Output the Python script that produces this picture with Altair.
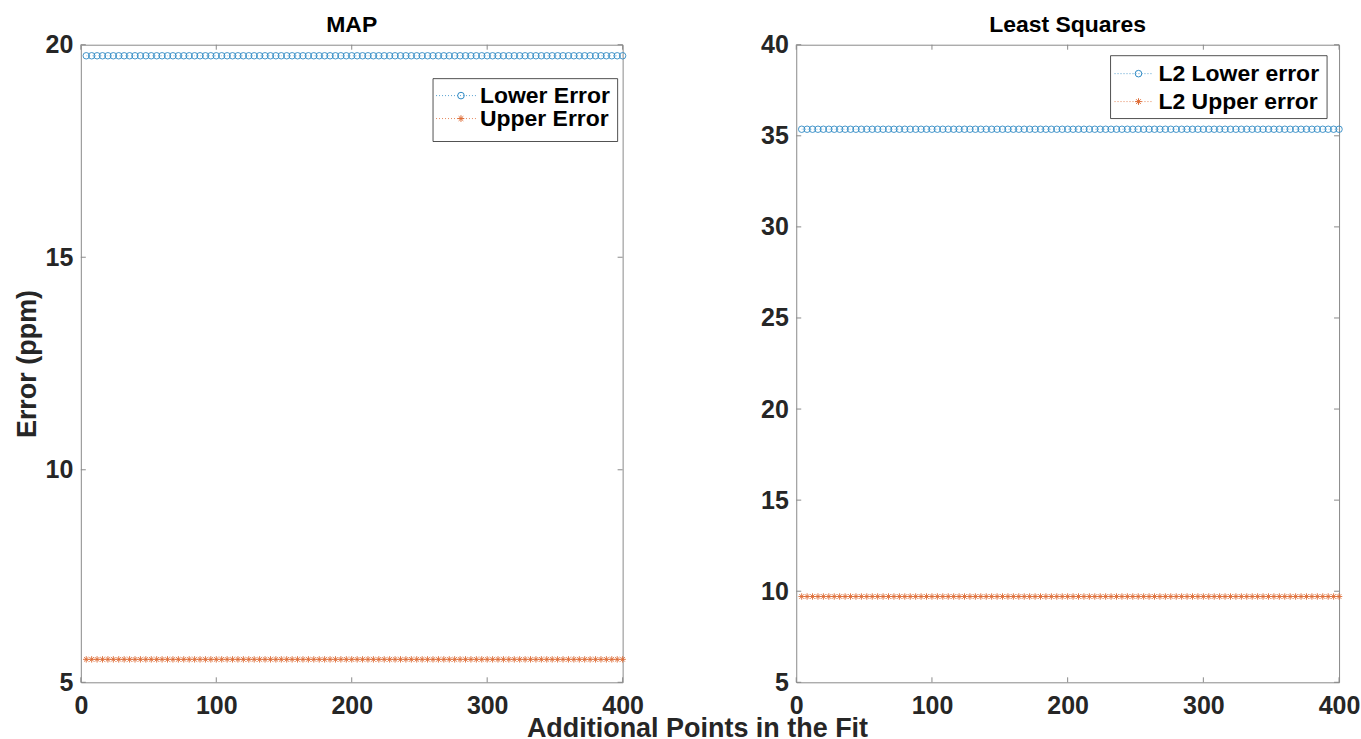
import altair as alt
import pandas as pd

# ---------------- data ----------------
X_POINTS = list(range(4, 401, 4))          # additional points in the fit
MAP_LOWER = 19.74                           # MAP lower error (ppm), flat
MAP_UPPER = 5.54                            # MAP upper error (ppm), flat
LS_LOWER = 35.36                            # least-squares lower error (ppm), flat
LS_UPPER = 9.71                             # least-squares upper error (ppm), flat

X_TICKS = [0, 100, 200, 300, 400]
MAP_Y_TICKS = [5, 10, 15, 20]
LS_Y_TICKS = [5, 10, 15, 20, 25, 30, 35, 40]

MAP_SERIES = ["Lower Error", "Upper Error"]
LS_SERIES = ["L2 Lower error", "L2 Upper error"]

# ---------------- styles ----------------
FONT = "Liberation Sans"
BLUE = "#2f8ac4"
ORANGE = "#de6a34"
FRAME = "#8a8a8a"
TXT = "#262626"
ASTERISK = "M-1,0L1,0M0,-1L0,1M-0.7,-0.7L0.7,0.7M-0.7,0.7L0.7,-0.7"
H = 639
TICK = 5


def legend_layers(names, box, rows, line_x, mark_x, text_x):
    x0, x1, y0, y1 = box
    layers = [
        alt.Chart(pd.DataFrame({"k": [0]})).mark_rect(
            fill="white", stroke=TXT, strokeWidth=0.8
        ).encode(x=alt.value(x0), x2=alt.value(x1), y=alt.value(y0), y2=alt.value(y1))
    ]
    for name, color, shape, ry in zip(names, [BLUE, ORANGE], ["circle", ASTERISK], rows):
        one = pd.DataFrame({"label": [name]})
        layers.append(
            alt.Chart(one).mark_rule(color=color, strokeWidth=0.8, strokeDash=[1, 2]).encode(
                x=alt.value(line_x[0]), x2=alt.value(line_x[1]), y=alt.value(ry)
            )
        )
        layers.append(
            alt.Chart(one).mark_point(shape=shape, filled=False, size=44, strokeWidth=1, color=color, opacity=1).encode(
                x=alt.value(mark_x), y=alt.value(ry)
            )
        )
        layers.append(
            alt.Chart(one).mark_text(
                align="left", baseline="middle", font=FONT, fontSize=23, fontWeight="bold", color="black"
            ).encode(x=alt.value(text_x), y=alt.value(ry), text="label:N")
        )
    return layers


def panel(title, names, lower, upper, y_ticks, y_domain, y_title, width, legend):
    n = len(X_POINTS)
    df = pd.DataFrame({
        "x": X_POINTS * 2,
        "value": [lower] * n + [upper] * n,
        "series": [names[0]] * n + [names[1]] * n,
    })
    xenc = alt.X(
        "x:Q",
        scale=alt.Scale(domain=[0, 400], nice=False, zero=False),
        axis=alt.Axis(values=X_TICKS, title=None, labelFlush=False, labelOverlap=False, labelPadding=11),
    )
    yaxis = dict(values=y_ticks, labelFlush=False, labelOverlap=False)
    yaxis["title"] = y_title if y_title else None
    yenc = alt.Y(
        "value:Q",
        scale=alt.Scale(domain=y_domain, nice=False, zero=False),
        axis=alt.Axis(**yaxis),
    )
    color = alt.Color("series:N", scale=alt.Scale(domain=names, range=[BLUE, ORANGE]), legend=None)
    shape = alt.Shape("series:N", scale=alt.Scale(domain=names, range=["circle", ASTERISK]), legend=None)

    base = alt.Chart(df)
    line = base.mark_line(strokeDash=[1, 2], strokeWidth=0.6, opacity=0.7).encode(
        x=xenc, y=yenc, color=color, detail="series:N"
    )
    pts = base.mark_point(filled=False, size=42, strokeWidth=0.9, opacity=1).encode(
        x="x:Q", y="value:Q", color=color, shape=shape
    )

    xt = pd.DataFrame({"x": X_TICKS})
    yt = pd.DataFrame({"value": y_ticks})
    ticks = [
        alt.Chart(xt).mark_rule(color=FRAME, strokeWidth=1).encode(x="x:Q", y=alt.value(H), y2=alt.value(H - TICK)),
        alt.Chart(xt).mark_rule(color=FRAME, strokeWidth=1).encode(x="x:Q", y=alt.value(0), y2=alt.value(TICK)),
        alt.Chart(yt).mark_rule(color=FRAME, strokeWidth=1).encode(y="value:Q", x=alt.value(0), x2=alt.value(TICK)),
        alt.Chart(yt).mark_rule(color=FRAME, strokeWidth=1).encode(y="value:Q", x=alt.value(width), x2=alt.value(width - TICK)),
    ]

    return alt.layer(line, pts, *ticks, *legend_layers(**legend)).properties(
        width=width,
        height=H,
        title=alt.TitleParams(
            text=title, fontSize=23, fontWeight="bold", font=FONT, color="black", anchor="middle", offset=-4
        ),
    )


left = panel(
    "MAP", MAP_SERIES, MAP_LOWER, MAP_UPPER, MAP_Y_TICKS, [5, 20], "Error (ppm)", 543,
    dict(names=MAP_SERIES, box=(353, 538, 34, 97), rows=(51, 74),
         line_x=(356, 396), mark_x=381, text_x=400),
)
right = panel(
    "Least Squares", LS_SERIES, LS_LOWER, LS_UPPER, LS_Y_TICKS, [5, 40], None, 544,
    dict(names=LS_SERIES, box=(315, 532, 11, 74), rows=(29, 57),
         line_x=(319, 356), mark_x=343, text_x=363),
)

chart = (
    alt.hconcat(left, right, spacing=115)
    .properties(
        title=alt.TitleParams(
            text="Additional Points in the Fit", orient="bottom", anchor="middle",
            fontSize=27, fontWeight="bold", font=FONT, color=TXT, offset=-3, dx=11,
        ),
        padding={"left": 12, "top": 12, "right": 0, "bottom": -4},
        background="white",
    )
    .configure_view(stroke=FRAME, strokeWidth=1)
    .configure_axis(
        grid=False, ticks=False, domain=False,
        labelFont=FONT, labelFontSize=25, labelFontWeight="bold", labelColor=TXT, labelPadding=8,
        titleFont=FONT, titleFontSize=27, titleFontWeight="bold", titleColor=TXT, titlePadding=4,
    )
)

chart.save("out.html", embed_options={"renderer": "svg", "actions": False})
